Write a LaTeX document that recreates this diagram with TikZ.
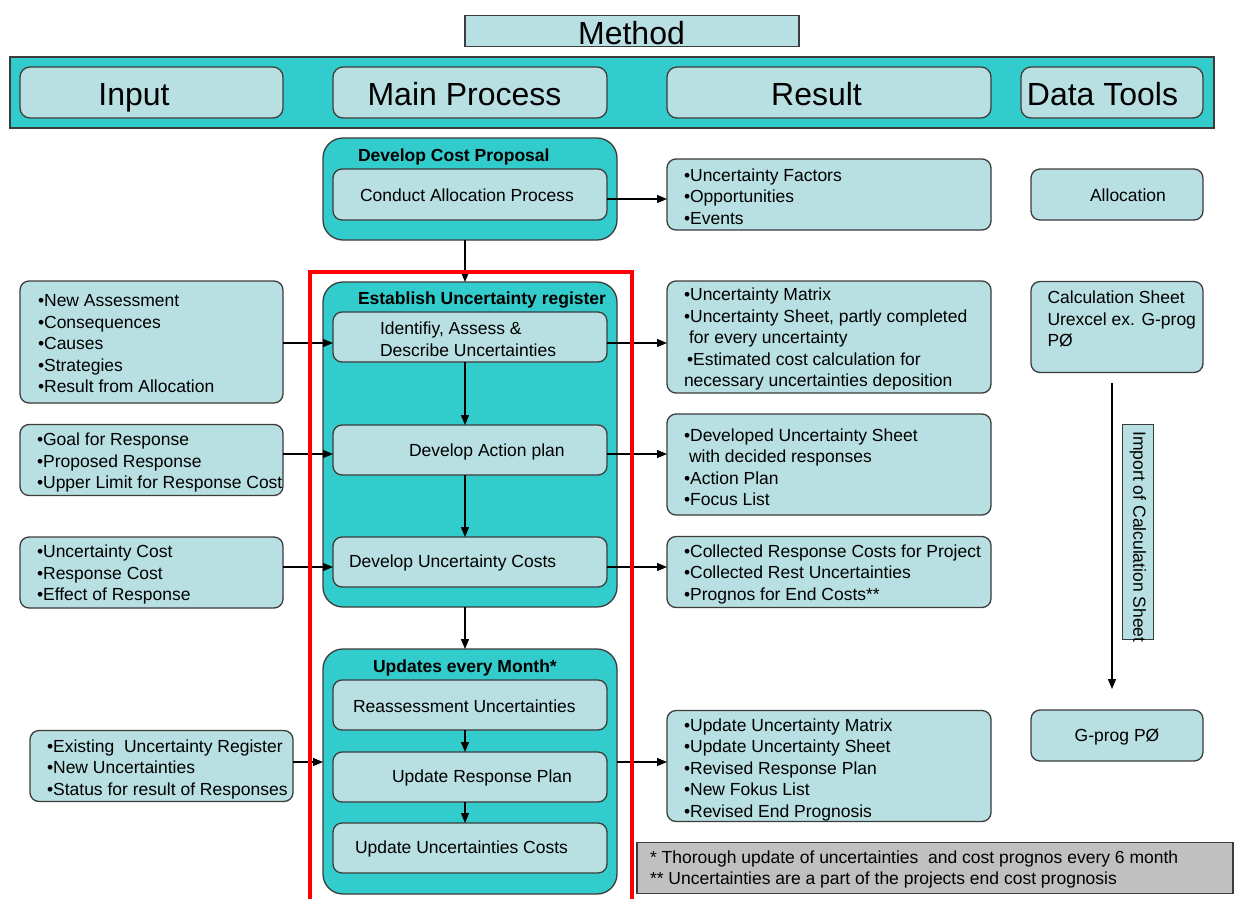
\documentclass[tikz,border=0pt]{standalone}
\usepackage{fontspec}
\setmainfont{Liberation Sans}
\usetikzlibrary{arrows.meta}
\definecolor{lightc}{RGB}{184,223,226}
\definecolor{tealc}{RGB}{51,204,204}
\definecolor{edgec}{RGB}{60,60,60}
\definecolor{notec}{RGB}{192,192,192}
\definecolor{redc}{RGB}{255,0,0}
\begin{document}
\begin{tikzpicture}[x=1pt,y=-1pt,
  every node/.style={inner sep=0pt, outer sep=0pt},
  lbox/.style={draw=edgec, fill=lightc, line width=1.3pt, rounded corners=9pt},
  cbox/.style={draw=edgec, fill=tealc, line width=1.3pt, rounded corners=20pt},
  txt/.style={font=\fontsize{17.5}{21.5}\selectfont, align=left, text=black},
  btxt/.style={font=\fontsize{17.5}{21.5}\selectfont\bfseries, text=black},
  htxt/.style={font=\fontsize{32}{36}\selectfont, text=black, anchor=base},
  arr/.style={draw=black, line width=1.3pt, -{Triangle[length=10pt,width=8pt]}},
]
\useasboundingbox (0,0) rectangle (1235,898);
\fill[white] (0,0) rectangle (1235,898);

% title and header band
\node[lbox, rounded corners=0pt, minimum width=334pt, minimum height=31pt] (method) at (632,31) {};
\node[htxt] (methodt) at (631.5,44) {Method};
\node[draw=edgec, fill=tealc, line width=1.3pt, minimum width=1204pt, minimum height=71pt] (band) at (612,92.5) {};
\node[lbox, rounded corners=10pt, minimum width=263pt, minimum height=51pt] (hin) at (151.5,92.5) {};
\node[htxt] (hint) at (134,105.5) {Input};
\node[lbox, rounded corners=10pt, minimum width=274pt, minimum height=51pt] (hmp) at (470,92.5) {};
\node[htxt] (hmpt) at (464.5,105.5) {Main Process};
\node[lbox, rounded corners=10pt, minimum width=324pt, minimum height=51pt] (hres) at (829,92.5) {};
\node[htxt] (hrest) at (816.5,105.5) {Result};
\node[lbox, rounded corners=10pt, minimum width=182pt, minimum height=51pt] (hdt) at (1112,92.5) {};
\node[htxt] (hdtt) at (1102.5,105.5) {Data Tools};

% process containers
\node[cbox, minimum width=294pt, minimum height=102pt] (dcp) at (470,189) {};
\node[btxt, anchor=west] (dcpt) at (358,157) {Develop Cost Proposal};
\node[lbox, minimum width=274pt, minimum height=51pt] (cap) at (470,194.5) {};
\node[txt] (capt) at (467,195) {Conduct Allocation Process};

\node[cbox, minimum width=294pt, minimum height=325pt] (eur) at (470,444.5) {};
\node[btxt, anchor=west] (eurt) at (358,300) {Establish Uncertainty register};
\node[lbox, minimum width=274pt, minimum height=50pt] (ida) at (470,337) {};
\node[txt, anchor=west] (idat) at (380,339) {Identifiy, Assess \&\\Describe Uncertainties};
\node[lbox, minimum width=274pt, minimum height=50pt] (dap) at (470,450) {};
\node[txt, anchor=west] (dapt) at (409,452) {Develop Action plan};
\node[lbox, minimum width=274pt, minimum height=50pt] (duc) at (470,562) {};
\node[txt, anchor=west] (duct) at (349,563) {Develop Uncertainty Costs};

\node[cbox, minimum width=294pt, minimum height=245pt] (uem) at (470,771.5) {};
\node[btxt, anchor=west] (uemt) at (373,668) {Updates every Month*};
\node[lbox, minimum width=274pt, minimum height=50pt] (rea) at (470,705) {};
\node[txt, anchor=west] (reat) at (353,706) {Reassessment Uncertainties};
\node[lbox, minimum width=274pt, minimum height=50pt] (urp) at (470,777) {};
\node[txt, anchor=west] (urpt) at (392,778) {Update Response Plan};
\node[lbox, minimum width=274pt, minimum height=50pt] (uuc) at (470,848) {};
\node[txt, anchor=west] (uuct) at (355,849) {Update Uncertainties Costs};

% inputs
\node[lbox, minimum width=263pt, minimum height=122pt] (in1) at (151.5,342) {};
\node[txt, anchor=west] (in1t) at (38,344) {•New Assessment\\•Consequences\\•Causes\\•Strategies\\•Result from Allocation};
\node[lbox, minimum width=263pt, minimum height=71pt] (in2) at (151.5,460) {};
\node[txt, anchor=west] (in2t) at (37,462.5) {•Goal for Response\\•Proposed Response\\•Upper Limit for Response Cost};
\node[lbox, minimum width=263pt, minimum height=71pt] (in3) at (151.5,572.5) {};
\node[txt, anchor=west] (in3t) at (37,574.5) {•Uncertainty Cost\\•Response Cost\\•Effect of Response};
\node[lbox, minimum width=263pt, minimum height=71pt] (in4) at (161.5,766) {};
\node[txt, anchor=west] (in4t) at (47,769) {•Existing\ \ Uncertainty Register\\•New Uncertainties\\•Status for result of Responses};

% results
\node[lbox, minimum width=324pt, minimum height=71pt] (r1) at (829,194.5) {};
\node[txt, anchor=west] (r1t) at (684,196.5) {•Uncertainty Factors\\•Opportunities\\•Events};
\node[lbox, minimum width=324pt, minimum height=112pt] (r2) at (829,337) {};
\node[txt, anchor=west] (r2t) at (684,339) {•Uncertainty Matrix\\•Uncertainty Sheet, partly completed\\\hspace*{5pt}for every uncertainty\\\hspace*{3pt}•Estimated cost calculation for\\necessary uncertainties deposition};
\node[lbox, minimum width=324pt, minimum height=101pt] (r3) at (829,464.5) {};
\node[txt, anchor=west] (r3t) at (684,467) {•Developed Uncertainty Sheet\\\hspace*{5pt}with decided responses\\•Action Plan\\•Focus List};
\node[lbox, minimum width=324pt, minimum height=71pt] (r4) at (829,572) {};
\node[txt, anchor=west] (r4t) at (684,574) {•Collected Response Costs for Project\\•Collected Rest Uncertainties\\•Prognos for End Costs**};
\node[lbox, minimum width=324pt, minimum height=111pt] (r5) at (829,766) {};
\node[txt, anchor=west] (r5t) at (684,769.5) {•Update Uncertainty Matrix\\•Update Uncertainty Sheet\\•Revised Response Plan\\•New Fokus List\\•Revised End Prognosis};

% data tools
\node[lbox, minimum width=172pt, minimum height=51pt] (alloc) at (1117,194.5) {};
\node[txt] (alloct) at (1128,195) {Allocation};
\node[lbox, minimum width=172pt, minimum height=91pt] (calc) at (1117,327) {};
\node[txt, anchor=west] (calct) at (1047.5,319) {Calculation Sheet\\Urexcel ex. G-prog\\PØ};
\node[lbox, minimum width=172pt, minimum height=51pt] (gprog) at (1117,735.5) {};
\node[txt] (gprogt) at (1117,737) {G-prog PØ};
\node[draw=edgec, fill=lightc, line width=1pt, minimum width=31pt, minimum height=215pt] (implbl) at (1137.5,531.5) {};
\node[txt, rotate=-90] (implblt) at (1138,537) {Import of Calculation Sheet};
\coordinate (impA) at (1112,383);
\coordinate (impB) at (1112,689);
\draw[arr] (impA) -- (impB);

% note
\node[draw=edgec, fill=notec, line width=1.3pt, minimum width=596pt, minimum height=51pt] (note) at (935,868) {};
\node[txt, anchor=west] (notet) at (650,869.5) {* Thorough update of uncertainties\ \ and cost prognos every 6 month\\** Uncertainties are a part of the projects end cost prognosis};

% connectors
\coordinate (yE) at (0,199);
\coordinate (yA) at (0,343);
\coordinate (yB) at (0,454);
\coordinate (yC) at (0,567);
\coordinate (yD) at (0,762);
\draw[arr] (cap.east |- yE) -- (r1.west |- yE);
\draw[arr] ([xshift=-5pt]dcp.south) -- ([xshift=-5pt]eur.north);
\draw[arr] ([xshift=-5pt]ida.south) -- ([xshift=-5pt]dap.north);
\draw[arr] ([xshift=-5pt]dap.south) -- ([xshift=-5pt]duc.north);
\draw[arr] ([xshift=-5pt]eur.south) -- ([xshift=-5pt]uem.north);
\draw[arr] ([xshift=-5pt]rea.south) -- ([xshift=-5pt]urp.north);
\draw[arr] ([xshift=-5pt]urp.south) -- ([xshift=-5pt]uuc.north);
\draw[arr] (in1.east |- yA) -- (ida.west |- yA);
\draw[arr] (ida.east |- yA) -- (r2.west |- yA);
\draw[arr] (in2.east |- yB) -- (dap.west |- yB);
\draw[arr] (dap.east |- yB) -- (r3.west |- yB);
\draw[arr] (in3.east |- yC) -- (duc.west |- yC);
\draw[arr] (duc.east |- yC) -- (r4.west |- yC);
\draw[arr] (in4.east |- yD) -- (uem.west |- yD);
\draw[arr] (uem.east |- yD) -- (r5.west |- yD);

% red frame
\node[draw=redc, line width=4pt, minimum width=322pt, minimum height=650pt] (redframe) at (471,597) {};
\end{tikzpicture}
\end{document}
